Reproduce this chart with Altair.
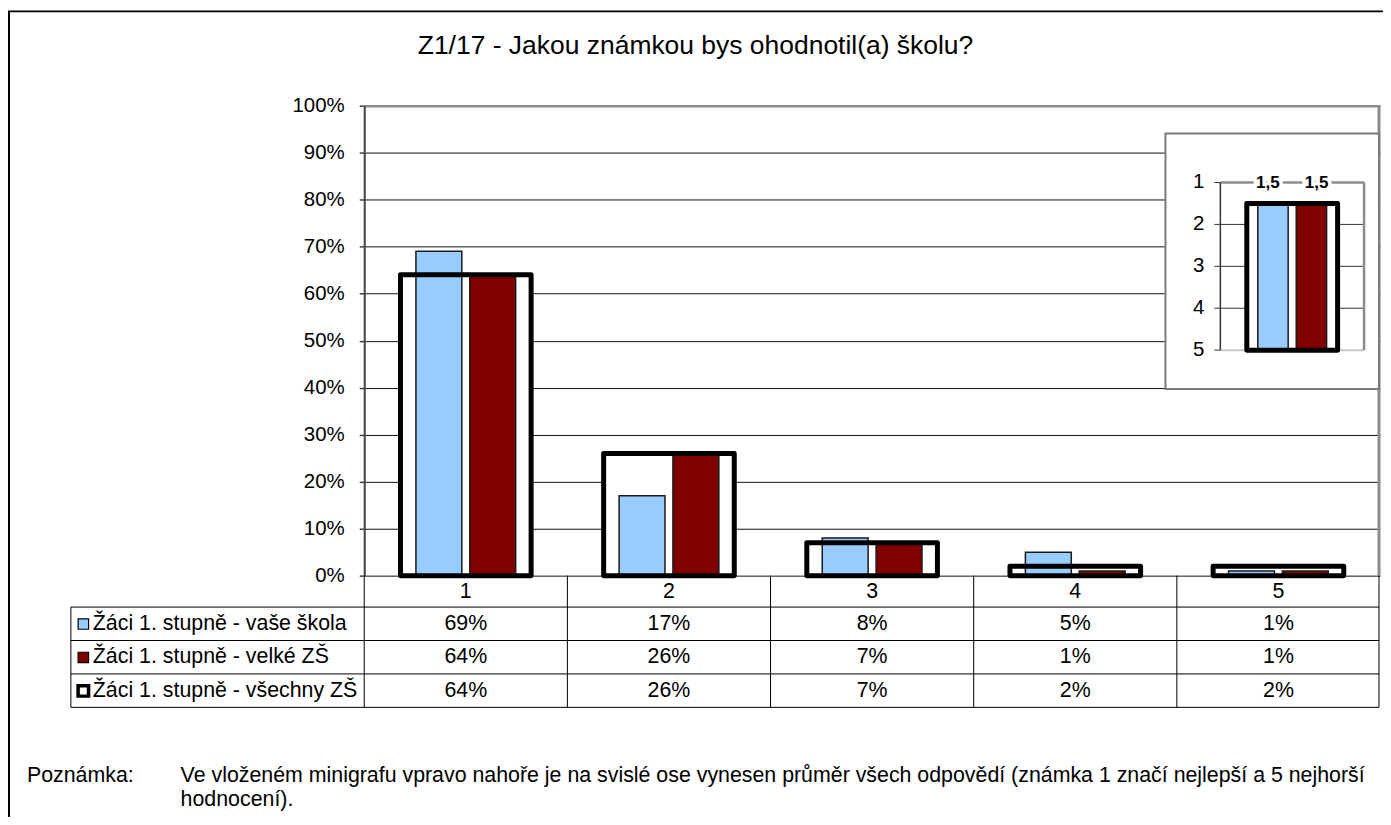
import altair as alt
import pandas as pd

# ---------------- data ----------------
categories = ["1", "2", "3", "4", "5"]
series = [
    "Žáci 1. stupně - vaše škola",
    "Žáci 1. stupně - velké ZŠ",
    "Žáci 1. stupně - všechny ZŠ",
]
skola = [69, 17, 8, 5, 1]
velke = [64, 26, 7, 1, 1]
vsechny = [64, 26, 7, 2, 2]
averages = [1.5, 1.5, 1.5]          # inset minigraph: mean grade per series
series_colors = ["#99CCFF", "#800000", "#FFFFFF"]
y_ticks = [0, 10, 20, 30, 40, 50, 60, 70, 80, 90, 100]
inset_ticks = [1, 2, 3, 4, 5]
title_text = "Z1/17 - Jakou známkou bys ohodnotil(a) školu?"
note_label = "Poznámka:"
note_lines = [
    "Ve vloženém minigrafu vpravo nahoře je na svislé ose vynesen průměr všech odpovědí (známka 1 značí nejlepší a 5 nejhorší",
    "hodnocení).",
]

# ---------------- layout ----------------
FONT = "Liberation Sans, Arial, sans-serif"
VX, VY = 365, 105          # page position of the main plot area
W, H = 1018, 471


def px(x):
    return x - VX


def py(y):
    return y - VY


one = pd.DataFrame({"k": [0]})

bars_df = pd.DataFrame({
    "cat": categories * 2,
    "series": [series[0]] * 5 + [series[1]] * 5,
    "value": [v / 100 for v in skola + velke],
})
box_df = pd.DataFrame({"cat": categories, "value": [v / 100 for v in vsechny]})
table_df = pd.DataFrame({
    "cat": categories * 3,
    "series": [s for s in series for _ in categories],
    "label": [f"{v}%" for v in skola + velke + vsechny],
})
avg_df = pd.DataFrame({
    "grp": ["avg", "avg"],
    "series": series[:2],
    "value": averages[:2],
    "label": [str(v).replace(".", ",") for v in averages[:2]],
})
avg_box_df = pd.DataFrame({"grp": ["avg"], "value": [averages[2]]})
tick_df = pd.DataFrame({"t": inset_ticks})
series_df = pd.DataFrame({"series": series})
cat_df = pd.DataFrame({"cat": categories})

# ---------------- scales ----------------
xs = alt.Scale(domain=categories, paddingInner=0, paddingOuter=0)
ys = alt.Scale(domain=[0, 1], nice=False)
fill_scale = alt.Scale(domain=series, range=series_colors)
xoff_main = alt.Scale(domain=series[:2], paddingInner=0.148, paddingOuter=0.96)
rows = alt.Scale(type="point", domain=series, range=[py(624.5), py(691.5)], padding=0)
ix = alt.Scale(domain=["avg"], range=[px(1223), px(1367)], paddingInner=0, paddingOuter=0)
iy = alt.Scale(domain=[1, 5], range=[py(182), py(350)], nice=False, zero=False)
xoff_inset = alt.Scale(domain=series[:2], paddingInner=0.21, paddingOuter=0.974)

yaxis = alt.Axis(
    values=[t / 100 for t in y_ticks], format=".0%", grid=True,
    gridColor={"condition": {"test": "datum.value >= 1", "value": "#8c8c8c"}, "value": "#111111"},
    gridWidth={"condition": {"test": "datum.value >= 1", "value": 2.5}, "value": 1},
    domainColor="#404040", domainWidth=2, tickColor="#404040", tickSize=5, tickWidth=1.5,
    labelFont=FONT, labelFontSize=20.5, labelColor="black", labelPadding=15, title=None,
)

X = alt.X("cat:N", scale=xs, axis=None)


def rule(x1, x2, y1, y2, color="black", w=1):
    return alt.Chart(one).mark_rule(color=color, strokeWidth=w).encode(
        x=alt.value(px(x1)), x2=alt.value(px(x2)), y=alt.value(py(y1)), y2=alt.value(py(y2)))


# ---------------- main bars ----------------
box_fill = alt.Chart(box_df).mark_bar(fill="white", width=alt.RelativeBandSize(0.643)).encode(
    x=X, y=alt.Y("value:Q", scale=ys, axis=yaxis))
bars = alt.Chart(bars_df).mark_bar(stroke="#1a1a1a", strokeWidth=1.5).encode(
    x=X,
    xOffset=alt.XOffset("series:N", scale=xoff_main),
    y=alt.Y("value:Q", scale=ys, axis=None),
    fill=alt.Fill("series:N", scale=fill_scale, legend=None),
)
box_stroke = alt.Chart(box_df).mark_bar(
    fill="transparent", stroke="black", strokeWidth=5, strokeJoin="round",
    width=alt.RelativeBandSize(0.643)).encode(x=X, y=alt.Y("value:Q", scale=ys, axis=None))
plot_right = rule(1382, 1382, 105, 576, "#8c8c8c", 3)

# ---------------- data table ----------------
txt = dict(font=FONT, fontSize=21.4, color="black", baseline="middle")
header = alt.Chart(cat_df).mark_text(**txt).encode(x=X, y=alt.value(py(592)), text="cat:N")
values = alt.Chart(table_df).mark_text(**txt).encode(
    x=X, y=alt.Y("series:N", scale=rows, axis=None), text="label:N")
row_labels = alt.Chart(series_df).mark_text(align="left", **txt).encode(
    x=alt.value(px(93)), y=alt.Y("series:N", scale=rows, axis=None), text="series:N")
swatches = alt.Chart(series_df).mark_square(size=110, opacity=1, stroke="black").encode(
    x=alt.value(px(83.5)), y=alt.Y("series:N", scale=rows, axis=None),
    fill=alt.Fill("series:N", scale=fill_scale, legend=None),
    strokeWidth=alt.condition(f"datum.series == '{series[2]}'", alt.value(3.5), alt.value(1.2)),
)
col_lines = alt.Chart(cat_df).mark_rule(color="black", strokeWidth=1).encode(
    x=alt.X("cat:N", scale=xs, axis=None, bandPosition=0), y=alt.value(py(576)), y2=alt.value(py(708)))
table_lines = [
    rule(71, 1382, 607.5, 607.5), rule(71, 1382, 641, 641), rule(71, 1382, 674.5, 674.5),
    rule(71, 1382, 708, 708), rule(71, 71, 607.5, 708), rule(1382, 1382, 576, 708),
]

# ---------------- inset minigraph ----------------
inset_bg = alt.Chart(one).mark_rect(fill="white", stroke="#7a7a7a", strokeWidth=2).encode(
    x=alt.value(px(1168)), x2=alt.value(px(1382)), y=alt.value(py(133)), y2=alt.value(py(389)))
IY = alt.Y("t:Q", scale=iy, axis=None)
inset_grid = alt.Chart(tick_df).transform_filter("datum.t > 1 && datum.t < 5").mark_rule(
    color="#333333", strokeWidth=1).encode(y=IY, x=alt.value(px(1223)), x2=alt.value(px(1367)))
inset_top = alt.Chart(tick_df).transform_filter("datum.t == 1").mark_rule(
    color="#8c8c8c", strokeWidth=2.5).encode(y=IY, x=alt.value(px(1223)), x2=alt.value(px(1367)))
inset_bottom = alt.Chart(tick_df).transform_filter("datum.t == 5").mark_rule(
    color="#c8c8c8", strokeWidth=2).encode(y=IY, x=alt.value(px(1223)), x2=alt.value(px(1367)))
inset_ticks_m = alt.Chart(tick_df).mark_rule(color="#333333", strokeWidth=1).encode(
    y=IY, x=alt.value(px(1217)), x2=alt.value(px(1223)))
inset_right = rule(1367, 1367, 182, 350, "#8c8c8c", 2.5)
inset_axis = rule(1223, 1223, 182, 350, "#333333", 1.5)
inset_labels = alt.Chart(tick_df).mark_text(align="right", font=FONT, fontSize=20.5, color="black",
                                            baseline="middle").encode(
    y=IY, x=alt.value(px(1207)), text="t:Q")
IX = alt.X("grp:N", scale=ix, axis=None)
inset_box_fill = alt.Chart(avg_box_df).mark_bar(fill="white", width=alt.RelativeBandSize(0.632)).encode(
    x=IX, y=alt.Y("value:Q", scale=iy, axis=None), y2=alt.datum(5))
inset_bars = alt.Chart(avg_df).mark_bar(stroke="#1a1a1a", strokeWidth=1.5).encode(
    x=IX, xOffset=alt.XOffset("series:N", scale=xoff_inset),
    y=alt.Y("value:Q", scale=iy, axis=None), y2=alt.datum(5),
    fill=alt.Fill("series:N", scale=fill_scale, legend=None))
inset_box_stroke = alt.Chart(avg_box_df).mark_bar(
    fill="transparent", stroke="black", strokeWidth=5, strokeJoin="round",
    width=alt.RelativeBandSize(0.632)).encode(x=IX, y=alt.Y("value:Q", scale=iy, axis=None), y2=alt.datum(5))
lab = dict(font=FONT, fontSize=17, fontWeight="bold", baseline="middle")
inset_val_halo = alt.Chart(avg_df).mark_text(color="white", stroke="white", strokeWidth=7, **lab).encode(
    x=IX, xOffset=alt.XOffset("series:N", scale=xoff_inset), y=alt.value(py(183)), text="label:N")
inset_val = alt.Chart(avg_df).mark_text(color="black", **lab).encode(
    x=IX, xOffset=alt.XOffset("series:N", scale=xoff_inset), y=alt.value(py(183)), text="label:N")

# ---------------- titles / notes / frame ----------------
title = alt.Chart(one).mark_text(font=FONT, fontSize=26.5, color="black", baseline="middle").encode(
    x=alt.value(px(697)), y=alt.value(py(45)), text=alt.value(title_text))
note_a = alt.Chart(one).mark_text(align="left", **txt).encode(
    x=alt.value(px(27)), y=alt.value(py(777)), text=alt.value(note_label))
note_b = alt.Chart(one).mark_text(align="left", **txt).encode(
    x=alt.value(px(181)), y=alt.value(py(777)), text=alt.value(note_lines[0]))
note_c = alt.Chart(one).mark_text(align="left", **txt).encode(
    x=alt.value(px(181)), y=alt.value(py(801)), text=alt.value(note_lines[1]))
frame_top = rule(8, 1391, 10.5, 10.5, "black", 2)
frame_left = rule(9, 9, 10, 825, "black", 2)

layers = [
    box_fill, bars, box_stroke, plot_right,
    col_lines, *table_lines, header, values, row_labels, swatches,
    inset_bg, inset_grid, inset_top, inset_bottom, inset_ticks_m, inset_right, inset_axis, inset_labels,
    inset_box_fill, inset_bars, inset_box_stroke, inset_val_halo, inset_val,
    title, note_a, note_b, note_c, frame_top, frame_left,
]

chart = alt.layer(*layers).resolve_scale(
    x="independent", y="independent", xOffset="independent"
).properties(
    width=W, height=H,
    autosize=alt.AutoSizeParams(type="none"),
    padding={"left": VX - 8, "top": VY - 8, "right": 3, "bottom": 809 - (VY - 8) - H},
).configure_view(strokeWidth=0)

chart.save("out.html", embed_options={"renderer": "svg", "actions": False})
